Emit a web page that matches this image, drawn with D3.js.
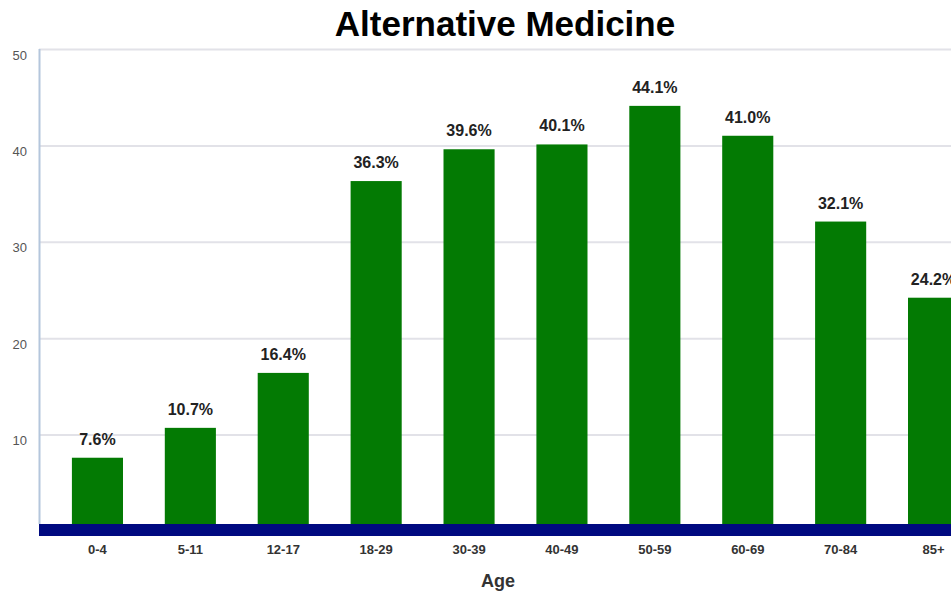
<!DOCTYPE html>
<html>
<head>
<meta charset="utf-8">
<script src="https://cdn.jsdelivr.net/npm/d3@7"></script>
<style>
  body { margin: 0; background: #fff; }
  svg { display: block; }
</style>
</head>
<body>
<div id="chart"></div>
<script>
// data
const ageGroups = ["0-4", "5-11", "12-17", "18-29", "30-39", "40-49", "50-59", "60-69", "70-84", "85+"]
const usePct = [7.6, 10.7, 16.4, 36.3, 39.6, 40.1, 44.1, 41.0, 32.1, 24.2]
const yTicks = [10, 20, 30, 40, 50]
const chartTitle = "Alternative Medicine"
const xTitle = "Age"

function drawChart() {
    const dims = { width: 951, height: 596 }

    const svg = d3.select("#chart")
        .append("svg")
        .attr("width", dims.width)
        .attr("height", dims.height)

    //---------- scales
    const xScale = d3.scaleBand()
        .domain(ageGroups)
        .range([51, 980])
        .paddingInner(0.45)
        .paddingOuter(0.225)

    const yScale = d3.scaleLinear()
        .domain([0, 50])
        .range([531, 49])

    const plotLeft = 39
    const baseTop = 524

    //---------- gridlines
    svg.append("g")
        .selectAll("line")
        .data(yTicks)
        .join("line")
        .attr("x1", plotLeft)
        .attr("x2", dims.width)
        .attr("y1", d => yScale(d) + 0.5)
        .attr("y2", d => yScale(d) + 0.5)
        .attr("stroke", "#e2e2e8")
        .attr("stroke-width", 2)

    // y axis line
    svg.append("line")
        .attr("x1", plotLeft + 0.5)
        .attr("x2", plotLeft + 0.5)
        .attr("y1", yScale(50))
        .attr("y2", baseTop)
        .attr("stroke", "#b4c6dc")
        .attr("stroke-width", 2)

    // y tick labels
    svg.append("g")
        .selectAll("text")
        .data(yTicks)
        .join("text")
        .attr("x", 27)
        .attr("y", d => yScale(d) + 6)
        .attr("dy", "0.35em")
        .attr("text-anchor", "end")
        .attr("font-family", "Liberation Sans, Arial, sans-serif")
        .attr("font-size", 13)
        .attr("fill", "#555")
        .text(d => d)

    //---------- bars
    svg.append("g")
        .selectAll("rect")
        .data(usePct)
        .join("rect")
        .attr("x", (d, i) => xScale(ageGroups[i]))
        .attr("width", xScale.bandwidth())
        .attr("y", d => yScale(d))
        .attr("height", d => baseTop - yScale(d))
        .attr("fill", "#037a03")

    // value labels
    svg.append("g")
        .selectAll("text")
        .data(usePct)
        .join("text")
        .attr("x", (d, i) => xScale(ageGroups[i]) + xScale.bandwidth() / 2)
        .attr("y", d => yScale(d) - 13)
        .attr("text-anchor", "middle")
        .attr("font-family", "Liberation Sans, Arial, sans-serif")
        .attr("font-weight", "bold")
        .attr("font-size", 16)
        .attr("fill", "#222")
        .text(d => d.toFixed(1) + "%")

    // navy baseline band
    svg.append("rect")
        .attr("x", plotLeft)
        .attr("y", baseTop)
        .attr("width", dims.width - plotLeft)
        .attr("height", 12)
        .attr("fill", "#000a80")

    // x labels
    svg.append("g")
        .selectAll("text")
        .data(ageGroups)
        .join("text")
        .attr("x", d => xScale(d) + xScale.bandwidth() / 2)
        .attr("y", 554)
        .attr("text-anchor", "middle")
        .attr("font-family", "Liberation Sans, Arial, sans-serif")
        .attr("font-weight", "bold")
        .attr("font-size", 13)
        .attr("fill", "#333")
        .text(d => d)

    // axis title
    svg.append("text")
        .attr("x", 498)
        .attr("y", 587)
        .attr("text-anchor", "middle")
        .attr("font-family", "Liberation Sans, Arial, sans-serif")
        .attr("font-weight", "bold")
        .attr("font-size", 18)
        .attr("fill", "#333")
        .text(xTitle)

    // chart title
    svg.append("text")
        .attr("x", 505)
        .attr("y", 36)
        .attr("text-anchor", "middle")
        .attr("font-family", "Liberation Sans, Arial, sans-serif")
        .attr("font-weight", "bold")
        .attr("font-size", 35)
        .attr("fill", "#000")
        .text(chartTitle)
}
drawChart()
</script>
</body>
</html>
